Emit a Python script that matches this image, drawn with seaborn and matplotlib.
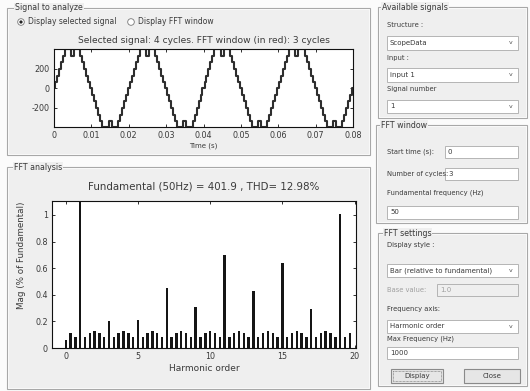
import numpy as np
import pandas as pd
import matplotlib
matplotlib.use("Agg")
import matplotlib.pyplot as plt
from matplotlib.patches import Rectangle, Circle
import seaborn as sns

# ---------------- data ----------------
# one cycle of the staircase signal: switching instants (ms) and levels (V)
cycle_t_ms = [0, 0.27, 0.8, 1.33, 1.87, 2.4, 2.93, 4.6, 5.4, 7.07, 7.6, 8.13, 8.67,
              9.2, 9.73, 10.27, 10.8, 11.33, 11.87, 12.4, 12.93, 14.6, 15.4, 17.07,
              17.6, 18.13, 18.67, 19.2, 19.73]
cycle_levels = [0, 67, 133, 200, 267, 333, 400, 333, 400, 333, 267, 200, 133,
                67, 0, -67, -133, -200, -267, -333, -400, -333, -400, -333,
                -267, -200, -133, -67, 0]
n_cycles = 4
period_ms = 20

time_ticks = [0, 0.01, 0.02, 0.03, 0.04, 0.05, 0.06, 0.07, 0.08]
time_tick_labels = ["0", "0.01", "0.02", "0.03", "0.04", "0.05", "0.06", "0.07", "0.08"]
sig_yticks = [-200, 0, 200]
sig_ytick_labels = ["-200", "0", "200"]

# FFT: bars every 1/3 harmonic (3-cycle window)
fft_index = list(range(60))          # harmonic order = index / 3
fft_mag = [0.06, 0.11, 0.08, 100.0, 0.08, 0.11, 0.13, 0.11, 0.08, 0.20,
           0.08, 0.11, 0.13, 0.11, 0.08, 0.21, 0.08, 0.11, 0.13, 0.11,
           0.08, 0.45, 0.08, 0.11, 0.13, 0.11, 0.08, 0.31, 0.08, 0.11,
           0.13, 0.11, 0.08, 0.70, 0.08, 0.11, 0.13, 0.11, 0.08, 0.43,
           0.08, 0.11, 0.13, 0.11, 0.08, 0.64, 0.08, 0.11, 0.13, 0.11,
           0.08, 0.29, 0.08, 0.11, 0.13, 0.11, 0.08, 1.01, 0.08, 0.11]
fft_xticks = [0, 5, 10, 15, 20]
fft_yticks = [0, 0.2, 0.4, 0.6, 0.8, 1]
fft_ytick_labels = ["0", "0.2", "0.4", "0.6", "0.8", "1"]

# ---------------- figure ----------------
sns.set_style("ticks")
plt.rcParams["font.family"] = ["DejaVu Sans"]

W, H = 530, 391
fig = plt.figure(figsize=(W / 100, H / 100), dpi=100)
fig.patch.set_facecolor("#fbfbfb")

bg = fig.add_axes([0, 0, 1, 1])
bg.set_xlim(0, W)
bg.set_ylim(H, 0)
bg.axis("off")
bg.set_zorder(0)

TXT = "#3a3a3a"
PANEL = "#efefef"
EDGE = "#a8a8a8"


def panel(x0, y0, x1, y1, title=None, tx=None):
    bg.add_patch(Rectangle((x0, y0), x1 - x0, y1 - y0, facecolor=PANEL,
                           edgecolor=EDGE, lw=0.8))
    bg.add_patch(Rectangle((x0 + 1, y0 + 1), x1 - x0 - 2, y1 - y0 - 2, facecolor="none",
                           edgecolor="white", lw=0.5))
    if title:
        bg.text(tx if tx else x0 + 6, y0, title, fontsize=5.7, color=TXT, va="center",
                ha="left", bbox=dict(facecolor=PANEL, edgecolor="none", pad=0.6))


def label(x, y, s, size=4.9, color=TXT, ha="left"):
    bg.text(x, y, s, fontsize=size, color=color, va="center", ha=ha)


def editbox(x0, y0, x1, y1, s, color=TXT, dropdown=False, face="white"):
    bg.add_patch(Rectangle((x0, y0), x1 - x0, y1 - y0, facecolor=face,
                           edgecolor="#b4b4b4", lw=0.7))
    bg.text(x0 + 3, (y0 + y1) / 2, s, fontsize=5.0, color=color, va="center", ha="left")
    if dropdown:
        bg.text(x1 - 7, (y0 + y1) / 2, "v", fontsize=4.5, color="#555", va="center",
                ha="center")


# left panels
panel(7, 8, 370, 155, "Signal to analyze", tx=15)
panel(7, 167, 370, 389, "FFT analysis", tx=14)

# radio buttons
bg.add_patch(Circle((21, 22), 3.3, facecolor="white", edgecolor="#777", lw=0.6))
bg.add_patch(Circle((21, 22), 1.6, facecolor="#222", edgecolor="none"))
label(28, 22, "Display selected signal", size=5.5)
bg.add_patch(Circle((131, 22), 3.3, facecolor="white", edgecolor="#777", lw=0.6))
label(138, 22, "Display FFT window", size=5.5)

# right panels
panel(378, 7, 527, 118, "Available signals", tx=382)
label(387, 25, "Structure :")
editbox(387, 36, 518, 50, "ScopeData", dropdown=True)
label(387, 58, "Input :")
editbox(387, 68, 518, 82, "input 1", dropdown=True)
label(387, 89, "Signal number")
editbox(387, 100, 518, 113, "1", dropdown=True)

panel(376, 125, 527, 223, "FFT window", tx=381)
label(387, 152, "Start time (s):")
editbox(445, 146, 518, 158, "0")
label(387, 174, "Number of cycles:")
editbox(445, 168, 518, 180, "3")
label(387, 193, "Fundamental frequency (Hz)")
editbox(387, 206, 518, 219, "50")

panel(378, 233, 527, 386, "FFT settings", tx=384)
label(387, 245, "Display style :")
editbox(387, 264, 518, 277, "Bar (relative to fundamental)", dropdown=True)
label(387, 290, "Base value:", color="#a0a0a0")
editbox(437, 284, 518, 296, "1.0", color="#a0a0a0", face="#efefef")
label(387, 309, "Frequency axis:")
editbox(387, 320, 518, 333, "Harmonic order", dropdown=True)
label(387, 339, "Max Frequency (Hz)")
editbox(387, 347, 518, 359, "1000")

# buttons
for (x0, x1, s, focus) in [(391, 443, "Display", True), (464, 520, "Close", False)]:
    bg.add_patch(Rectangle((x0, 369), x1 - x0, 14, facecolor="#e6e6e6",
                           edgecolor="#8a8a8a", lw=0.8))
    if focus:
        bg.add_patch(Rectangle((x0 + 2, 371), x1 - x0 - 4, 10, facecolor="none",
                               edgecolor="#666", lw=0.5, ls=(0, (1, 1))))
    bg.text((x0 + x1) / 2, 376, s, fontsize=5.0, color=TXT, ha="center", va="center")


def px_axes(x0, y0, x1, y1):
    return fig.add_axes([x0 / W, (H - y1) / H, (x1 - x0) / W, (y1 - y0) / H])


def style_axes(ax):
    ax.set_facecolor("white")
    for sp in ax.spines.values():
        sp.set_visible(True)
        sp.set_color("#111")
        sp.set_linewidth(0.8)
    ax.tick_params(direction="in", length=2.5, width=0.6, top=True, right=True,
                   labelsize=5.8, colors="#111", labelcolor=TXT, pad=3)


# ---------------- signal axes ----------------
t_all, v_all = [], []
for c in range(n_cycles):
    for t, v in zip(cycle_t_ms, cycle_levels):
        t_all.append((t + c * period_ms) / 1000.0)
        v_all.append(v)
t_all.append(n_cycles * period_ms / 1000.0)
v_all.append(cycle_levels[-1])
sig_df = pd.DataFrame({"t": t_all, "v": v_all})

ax1 = px_axes(54, 49, 353, 127)
ax1.set_zorder(2)
sns.lineplot(data=sig_df, x="t", y="v", ax=ax1, color="#2e2e2e", lw=1.5,
             drawstyle="steps-post", estimator=None, sort=False)
ax1.set_xlim(0, 0.08)
ax1.set_ylim(-395, 405)
ax1.set_xticks(time_ticks)
ax1.set_xticklabels(time_tick_labels)
ax1.set_yticks(sig_yticks)
ax1.set_yticklabels(sig_ytick_labels)
style_axes(ax1)
ax1.set_xlabel("Time (s)", fontsize=5.0, color=TXT, labelpad=2)
ax1.set_ylabel("")
ax1.set_title("Selected signal: 4 cycles. FFT window (in red): 3 cycles",
              fontsize=6.6, color=TXT, pad=4)

# ---------------- FFT axes ----------------
fft_df = pd.DataFrame({"order": [i / 3 for i in fft_index], "mag": fft_mag})
ax2 = px_axes(52, 201, 356, 348)
ax2.set_zorder(2)
sns.barplot(data=fft_df, x="order", y="mag", ax=ax2, native_scale=True, width=0.5,
            color="#151515", saturation=1, errorbar=None, linewidth=0)
ax2.set_xlim(-0.95, 20.1)
ax2.set_ylim(0, 1.105)
ax2.set_xticks(fft_xticks)
ax2.set_xticklabels([str(v) for v in fft_xticks])
ax2.set_yticks(fft_yticks)
ax2.set_yticklabels(fft_ytick_labels)
style_axes(ax2)
ax2.set_xlabel("Harmonic order", fontsize=6.5, color=TXT, labelpad=2)
ax2.set_ylabel("Mag (% of Fundamental)", fontsize=6.3, color=TXT)
ax2.yaxis.set_label_coords(-0.085, 0.63)
ax2.set_title("Fundamental (50Hz) = 401.9 , THD= 12.98%", fontsize=7.4, color=TXT, pad=8)

fig.savefig("out.png", dpi=100, facecolor=fig.get_facecolor())
